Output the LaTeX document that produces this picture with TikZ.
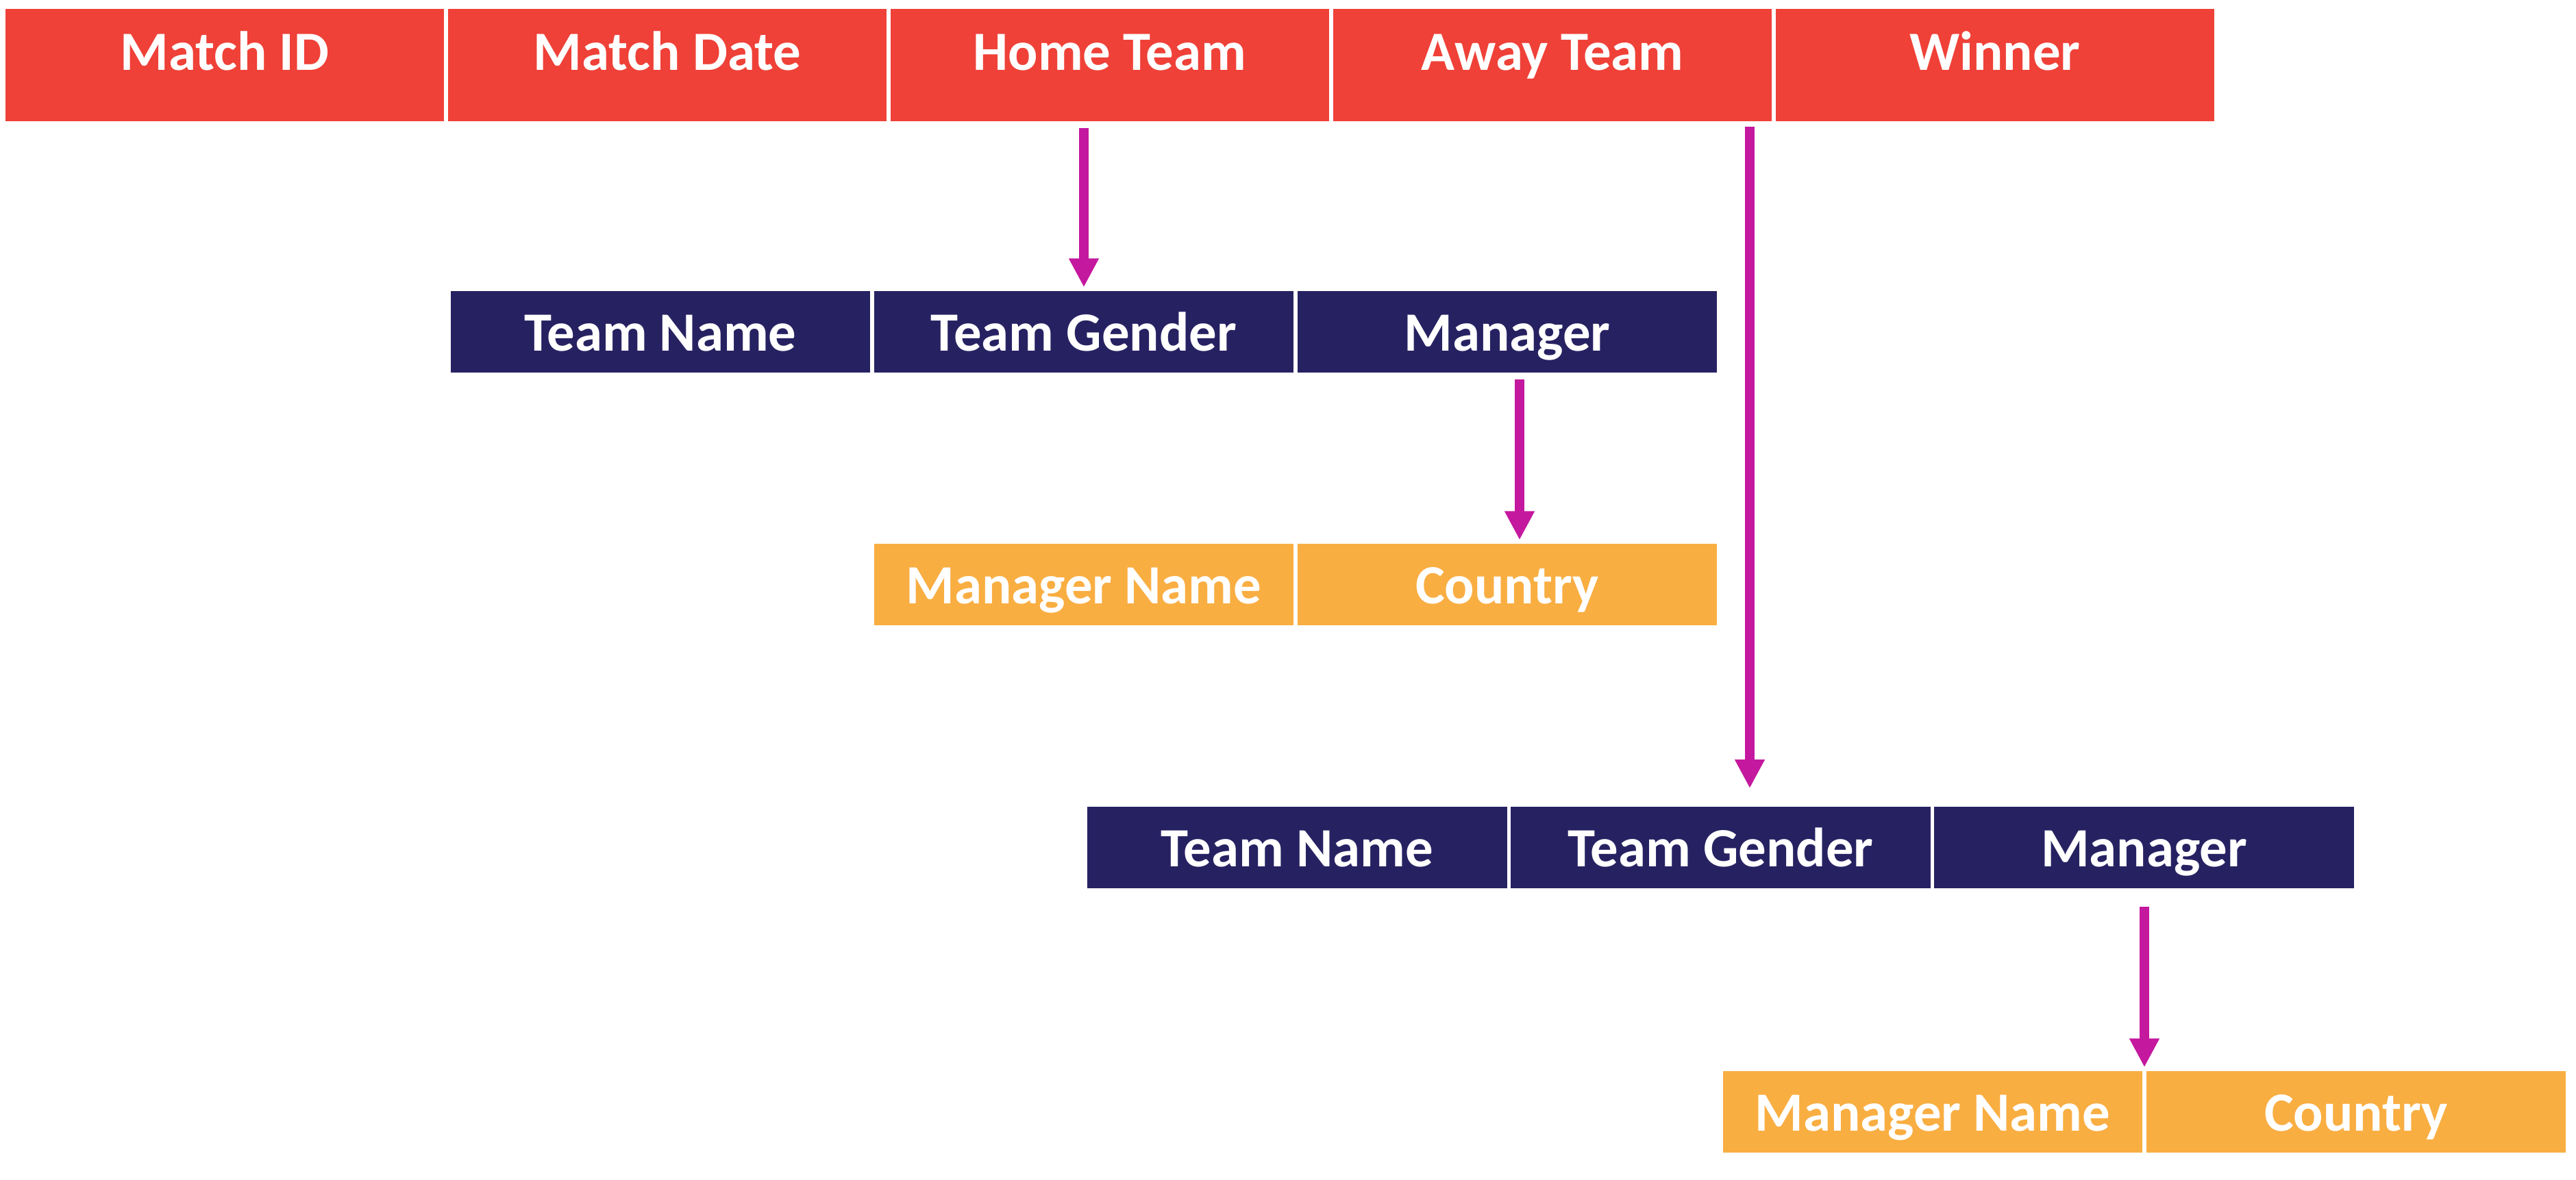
\documentclass[tikz,border=0pt]{standalone}
\usepackage{fontspec}
\setmainfont{Carlito}
\usepackage{tikz}
\usetikzlibrary{arrows.meta}

\definecolor{matchred}{HTML}{EF4138}
\definecolor{teamnavy}{HTML}{262262}
\definecolor{mgrorange}{HTML}{F9AE42}
\definecolor{linkpink}{HTML}{C4189E}

\tikzset{
  cell/.style={draw=white, line width=1.5pt, text=white,
    font=\fontsize{23}{27}\selectfont\bfseries, inner sep=0pt},
  matchcell/.style={cell, fill=matchred, minimum width=6.46cm, minimum height=1.70cm,
    text height=0.52cm, text depth=0.38cm},
  teamcell/.style={cell, fill=teamnavy, minimum width=6.18cm, minimum height=1.25cm,
    text height=0.56cm, text depth=0cm},
  mgrcell/.style={cell, fill=mgrorange, minimum width=6.18cm, minimum height=1.25cm,
    text height=0.56cm, text depth=0cm},
  link/.style={draw=linkpink, line width=0.14cm, -{Triangle[length=0.42cm,width=0.41cm]}}
}

\begin{document}
\begin{tikzpicture}
            \useasboundingbox (0,0) rectangle (37.6,-17.23);

            \node[matchcell] (matchid) at (3.28,-0.95) {Match ID};
            \node[matchcell] (matchdate) at (9.74,-0.95) {Match Date};
            \node[matchcell] (home) at (16.20,-0.95) {Home Team};
            \node[matchcell] (away) at (22.66,-0.95) {Away Team};
            \node[matchcell] (winner) at (29.12,-0.95) {Winner};

            \node[teamcell] (tname1) at (9.64,-4.845) {Team Name};
            \node[teamcell] (tgender1) at (15.82,-4.845) {Team Gender};
            \node[teamcell] (tmgr1) at (22.00,-4.845) {Manager};

            \node[mgrcell] (mname1) at (15.82,-8.535) {Manager Name};
            \node[mgrcell] (country1) at (22.00,-8.535) {Country};

            \node[teamcell] (tname2) at (18.935,-12.375) {Team Name};
            \node[teamcell] (tgender2) at (25.115,-12.375) {Team Gender};
            \node[teamcell] (tmgr2) at (31.295,-12.375) {Manager};

            \node[mgrcell] (mname2) at (28.21,-16.235) {Manager Name};
            \node[mgrcell] (country2) at (34.39,-16.235) {Country};

            \coordinate (homeout) at (15.82,-1.87);
            \coordinate (awayout) at (25.54,-1.85);
            \coordinate (awayin) at (25.54,-11.51);
            \coordinate (mgrout1) at (22.18,-5.54);
            \coordinate (mgrout2) at (31.30,-13.24);

            \draw[link] (homeout) -- (tgender1.north);
            \draw[link] (mgrout1) -- (mgrout1 |- country1.north);
            \draw[link] (awayout) -- (awayin);
            \draw[link] (mgrout2) -- (mgrout2 |- mname2.north);

\end{tikzpicture}
\end{document}
